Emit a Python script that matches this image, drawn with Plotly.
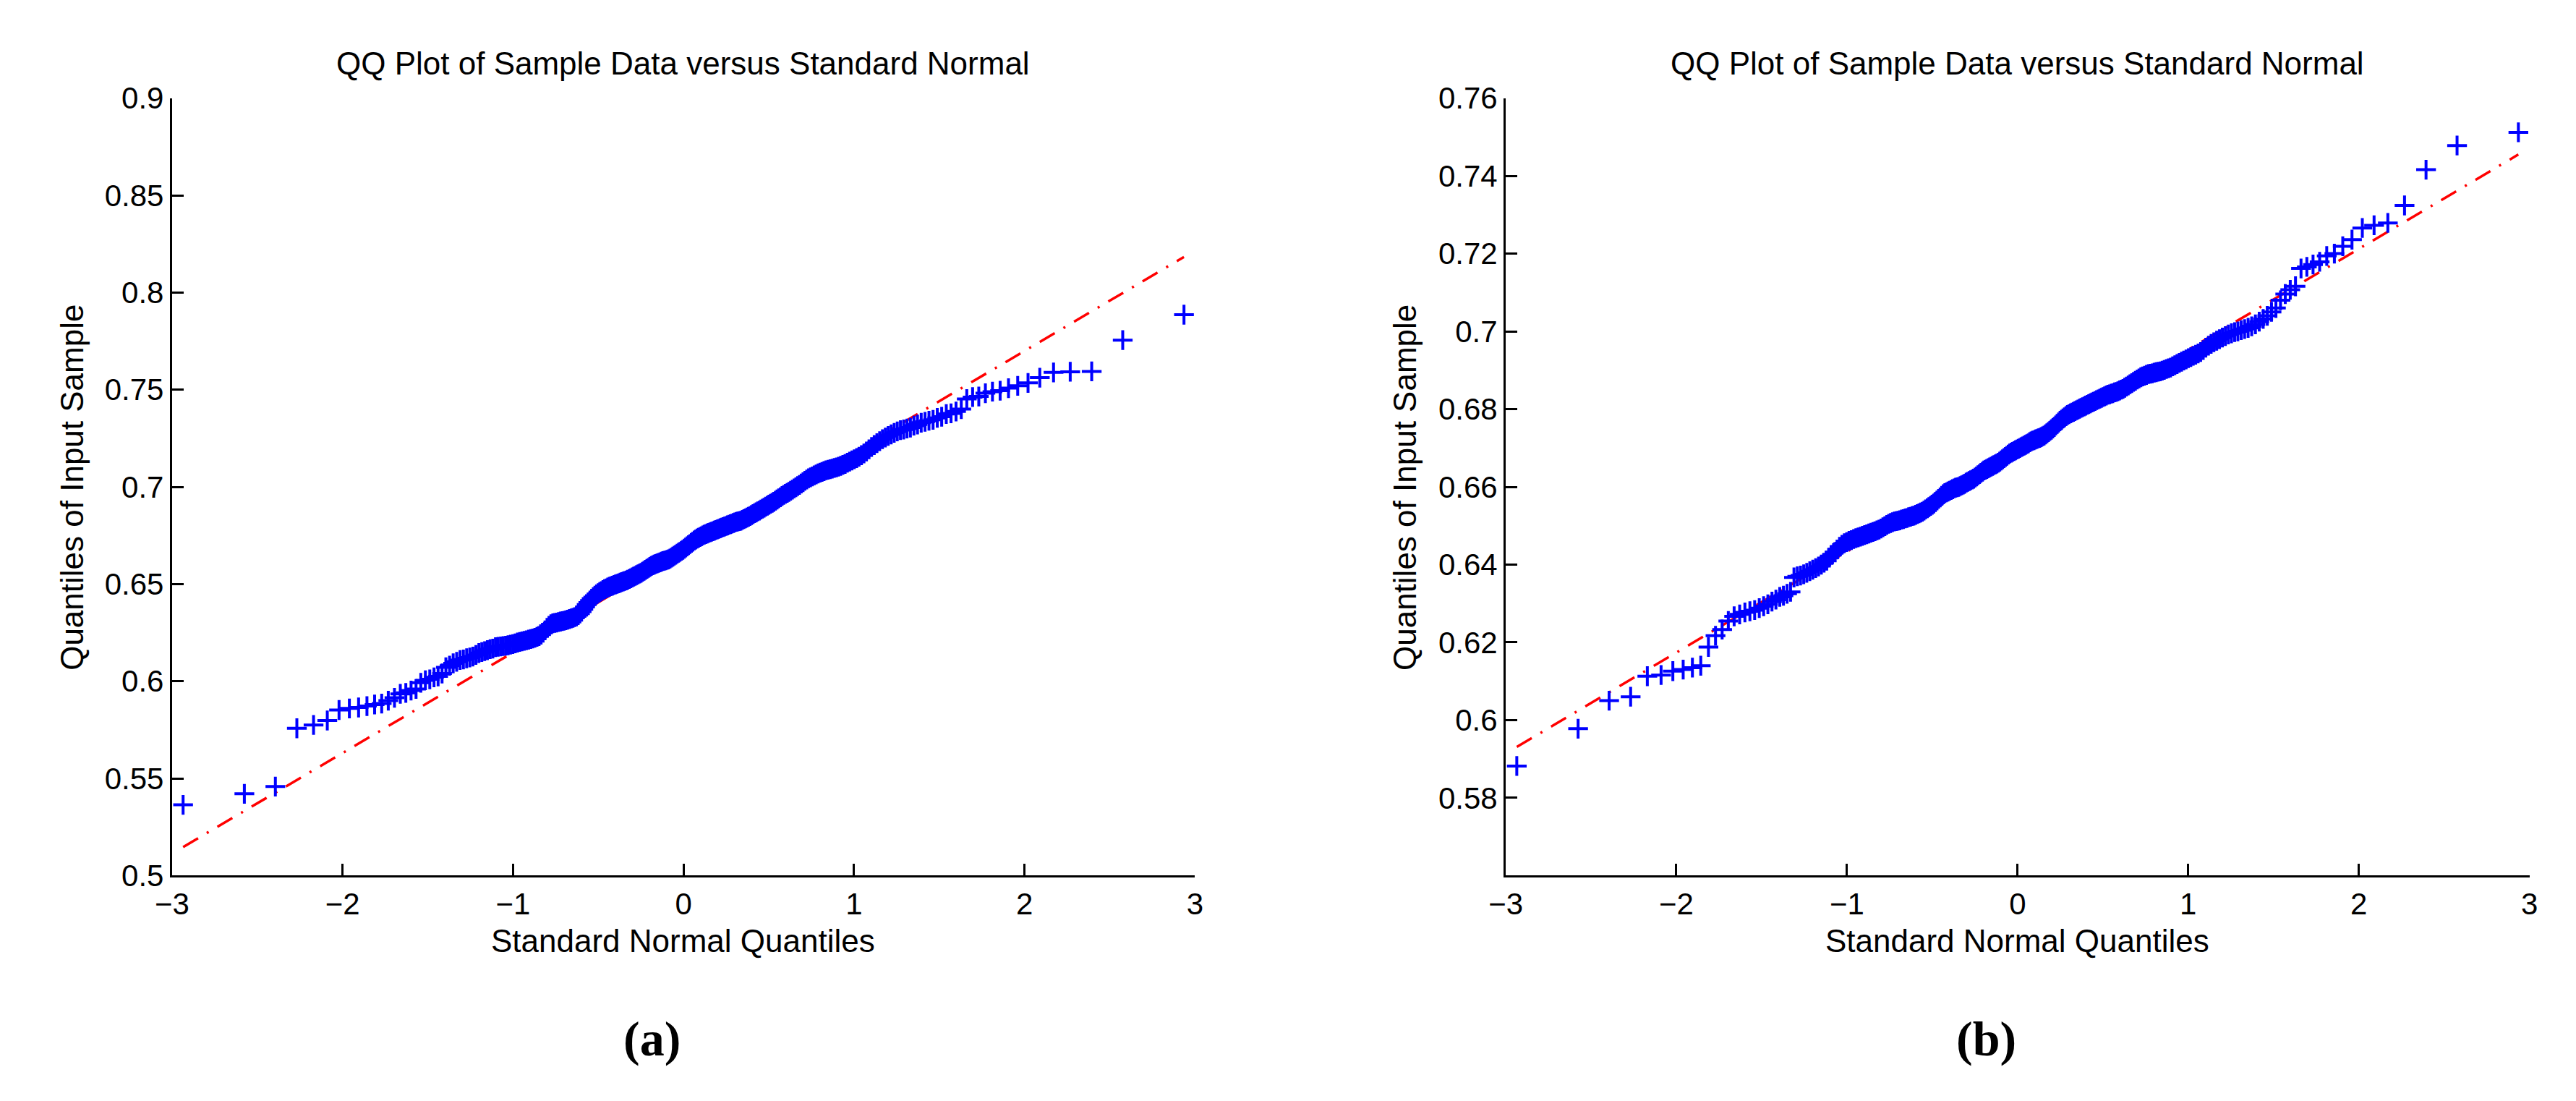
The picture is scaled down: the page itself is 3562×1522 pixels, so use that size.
from statistics import NormalDist
import plotly.graph_objects as go

# ---------------- data ----------------
N_POINTS = 300  # sample size of each QQ plot

# sorted sample values, panel (a)
sample_a = [
    0.5364, 0.5421, 0.5458, 0.5758, 0.5775, 0.5798, 0.5852, 0.5860, 0.5865, 0.5872,
    0.5880, 0.5885, 0.5900, 0.5915, 0.5935, 0.5940, 0.5952, 0.5960, 0.5992, 0.6005,
    0.6010, 0.6020, 0.6025, 0.6040, 0.6072, 0.6080, 0.6092, 0.6100, 0.6109, 0.6112,
    0.6118, 0.6122, 0.6127, 0.6135, 0.6145, 0.6150, 0.6155, 0.6160, 0.6165, 0.6168,
    0.6175, 0.6177, 0.6179, 0.6181, 0.6183, 0.6185, 0.6188, 0.6191, 0.6195, 0.6199,
    0.6202, 0.6205, 0.6208, 0.6211, 0.6214, 0.6217, 0.6220, 0.6224, 0.6228, 0.6232,
    0.6240, 0.6250, 0.6262, 0.6275, 0.6285, 0.6293, 0.6298, 0.6300, 0.6302, 0.6305,
    0.6307, 0.6309, 0.6311, 0.6314, 0.6317, 0.6320, 0.6323, 0.6326, 0.6330, 0.6334,
    0.6340, 0.6348, 0.6358, 0.6370, 0.6382, 0.6394, 0.6405, 0.6415, 0.6425, 0.6433,
    0.6440, 0.6447, 0.6453, 0.6459, 0.6464, 0.6469, 0.6474, 0.6478, 0.6482, 0.6486,
    0.6489, 0.6492, 0.6495, 0.6498, 0.6501, 0.6504, 0.6507, 0.6510, 0.6513, 0.6516,
    0.6519, 0.6522, 0.6526, 0.6530, 0.6534, 0.6538, 0.6542, 0.6546, 0.6550, 0.6554,
    0.6558, 0.6563, 0.6568, 0.6573, 0.6578, 0.6583, 0.6588, 0.6593, 0.6597, 0.6600,
    0.6603, 0.6606, 0.6609, 0.6612, 0.6615, 0.6618, 0.6620, 0.6622, 0.6625, 0.6627,
    0.6631, 0.6636, 0.6641, 0.6646, 0.6651, 0.6656, 0.6661, 0.6666, 0.6671, 0.6676,
    0.6682, 0.6688, 0.6694, 0.6700, 0.6706, 0.6712, 0.6718, 0.6724, 0.6729, 0.6734,
    0.6738, 0.6742, 0.6746, 0.6750, 0.6754, 0.6757, 0.6760, 0.6763, 0.6766, 0.6769,
    0.6772, 0.6775, 0.6778, 0.6781, 0.6784, 0.6787, 0.6790, 0.6793, 0.6796, 0.6799,
    0.6802, 0.6805, 0.6808, 0.6811, 0.6814, 0.6817, 0.6820, 0.6822, 0.6824, 0.6826,
    0.6830, 0.6834, 0.6838, 0.6842, 0.6846, 0.6850, 0.6855, 0.6860, 0.6865, 0.6869,
    0.6874, 0.6878, 0.6883, 0.6888, 0.6893, 0.6898, 0.6903, 0.6908, 0.6913, 0.6918,
    0.6923, 0.6929, 0.6935, 0.6941, 0.6947, 0.6953, 0.6959, 0.6964, 0.6969, 0.6974,
    0.6980, 0.6986, 0.6992, 0.6998, 0.7004, 0.7010, 0.7017, 0.7024, 0.7031, 0.7038,
    0.7044, 0.7049, 0.7054, 0.7059, 0.7064, 0.7069, 0.7073, 0.7077, 0.7081, 0.7085,
    0.7088, 0.7091, 0.7094, 0.7097, 0.7100, 0.7104, 0.7108, 0.7113, 0.7118, 0.7124,
    0.7130, 0.7136, 0.7142, 0.7148, 0.7155, 0.7163, 0.7172, 0.7182, 0.7193, 0.7205,
    0.7215, 0.7225, 0.7235, 0.7245, 0.7254, 0.7262, 0.7270, 0.7278, 0.7285, 0.7292,
    0.7295, 0.7300, 0.7305, 0.7315, 0.7321, 0.7330, 0.7335, 0.7340, 0.7345, 0.7355,
    0.7361, 0.7375, 0.7378, 0.7388, 0.7400, 0.7452, 0.7462, 0.7465, 0.7482, 0.7490,
    0.7495, 0.7508, 0.7520, 0.7535, 0.7562, 0.7589, 0.7592, 0.7594, 0.7755, 0.7886,
]

# sorted sample values, panel (b)
sample_b = [
    0.5882, 0.5978, 0.6050, 0.6060, 0.6113, 0.6116, 0.6126, 0.6130, 0.6135, 0.6140,
    0.6188, 0.6217, 0.6233, 0.6255, 0.6267, 0.6272, 0.6277, 0.6280, 0.6283, 0.6288,
    0.6293, 0.6298, 0.6305, 0.6310, 0.6317, 0.6320, 0.6325, 0.6330, 0.6367, 0.6370,
    0.6372, 0.6375, 0.6379, 0.6383, 0.6387, 0.6391, 0.6395, 0.6400, 0.6405, 0.6410,
    0.6418, 0.6425, 0.6432, 0.6439, 0.6446, 0.6451, 0.6455, 0.6458, 0.6461, 0.6463,
    0.6466, 0.6468, 0.6470, 0.6472, 0.6474, 0.6476, 0.6478, 0.6480, 0.6482, 0.6484,
    0.6486, 0.6488, 0.6490, 0.6493, 0.6496, 0.6499, 0.6502, 0.6505, 0.6507, 0.6509,
    0.6511, 0.6512, 0.6513, 0.6514, 0.6516, 0.6517, 0.6519, 0.6520, 0.6522, 0.6523,
    0.6525, 0.6526, 0.6528, 0.6530, 0.6532, 0.6534, 0.6536, 0.6539, 0.6542, 0.6545,
    0.6548, 0.6551, 0.6554, 0.6557, 0.6561, 0.6565, 0.6569, 0.6573, 0.6577, 0.6581,
    0.6584, 0.6586, 0.6588, 0.6590, 0.6592, 0.6594, 0.6596, 0.6598, 0.6599, 0.6600,
    0.6602, 0.6604, 0.6606, 0.6608, 0.6611, 0.6613, 0.6615, 0.6617, 0.6619, 0.6621,
    0.6624, 0.6627, 0.6630, 0.6633, 0.6636, 0.6639, 0.6642, 0.6644, 0.6646, 0.6648,
    0.6650, 0.6652, 0.6654, 0.6656, 0.6658, 0.6660, 0.6662, 0.6665, 0.6668, 0.6671,
    0.6674, 0.6677, 0.6680, 0.6683, 0.6686, 0.6688, 0.6690, 0.6692, 0.6694, 0.6696,
    0.6698, 0.6700, 0.6702, 0.6704, 0.6706, 0.6708, 0.6710, 0.6712, 0.6715, 0.6717,
    0.6719, 0.6720, 0.6722, 0.6723, 0.6725, 0.6726, 0.6728, 0.6730, 0.6732, 0.6735,
    0.6738, 0.6741, 0.6744, 0.6747, 0.6750, 0.6754, 0.6758, 0.6762, 0.6766, 0.6770,
    0.6773, 0.6776, 0.6779, 0.6782, 0.6785, 0.6787, 0.6789, 0.6791, 0.6793, 0.6795,
    0.6797, 0.6799, 0.6801, 0.6803, 0.6805, 0.6807, 0.6809, 0.6811, 0.6813, 0.6815,
    0.6817, 0.6819, 0.6821, 0.6823, 0.6825, 0.6827, 0.6829, 0.6831, 0.6833, 0.6835,
    0.6837, 0.6838, 0.6840, 0.6841, 0.6843, 0.6844, 0.6846, 0.6848, 0.6850, 0.6852,
    0.6855, 0.6858, 0.6861, 0.6864, 0.6867, 0.6870, 0.6873, 0.6876, 0.6879, 0.6882,
    0.6884, 0.6886, 0.6888, 0.6890, 0.6891, 0.6892, 0.6894, 0.6895, 0.6896, 0.6897,
    0.6899, 0.6901, 0.6903, 0.6905, 0.6907, 0.6910, 0.6913, 0.6916, 0.6919, 0.6922,
    0.6925, 0.6928, 0.6931, 0.6934, 0.6937, 0.6940, 0.6943, 0.6947, 0.6952, 0.6958,
    0.6963, 0.6968, 0.6972, 0.6976, 0.6980, 0.6984, 0.6988, 0.6992, 0.6995, 0.6998,
    0.7000, 0.7003, 0.7006, 0.7009, 0.7013, 0.7018, 0.7025, 0.7032, 0.7040, 0.7050,
    0.7060, 0.7080, 0.7096, 0.7107, 0.7116, 0.7162, 0.7166, 0.7172, 0.7179, 0.7194,
    0.7200, 0.7219, 0.7236, 0.7266, 0.7273, 0.7279, 0.7324, 0.7416, 0.7478, 0.7512,
]

# reference (quartile) lines: end points
refline_x = [-2.935, 2.935]
refline_a_y = [0.5147, 0.8183]
refline_b_y = [0.5931, 0.7455]
quartile_z = [-0.6745, 0.6745]

# axis ticks
x_ticks = [-3, -2, -1, 0, 1, 2, 3]
y_ticks_a = [0.5, 0.55, 0.6, 0.65, 0.7, 0.75, 0.8, 0.85, 0.9]
y_ticks_b = [0.58, 0.6, 0.62, 0.64, 0.66, 0.68, 0.7, 0.72, 0.74, 0.76]
y_ticktext_b = ["0.58", "0.6", "0.62", "0.64", "0.66", "0.68", "0.7", "0.72", "0.74", "0.76"]
y_range_a = [0.5, 0.9]
y_range_b = [0.56, 0.76]

TITLE = "QQ Plot of Sample Data versus Standard Normal"
XLAB = "Standard Normal Quantiles"
YLAB = "Quantiles of Input Sample"
PANEL_LABELS = ["(a)", "(b)"]

# theoretical standard-normal quantiles (MATLAB qqplot plotting positions)
nd = NormalDist()
theo = [nd.inv_cdf((i - 0.5) / N_POINTS) for i in range(1, N_POINTS + 1)]


def line_at(xs, y_end):
    slope = (y_end[1] - y_end[0]) / (refline_x[1] - refline_x[0])
    return [y_end[0] + slope * (x - refline_x[0]) for x in xs]


W, H = 3562, 1522
SANS = "Liberation Sans, Arial, sans-serif"
BLUE = "#0000FF"
RED = "#FF0000"

fig = go.Figure()

panels = [
    ("x", "y", sample_a, refline_a_y),
    ("x2", "y2", sample_b, refline_b_y),
]
for xa, ya, sample, ly in panels:
    fig.add_trace(go.Scatter(
        x=refline_x, y=ly, mode="lines", xaxis=xa, yaxis=ya,
        line=dict(color=RED, width=3.5, dash="24px,14px,3px,14px"),
        hoverinfo="skip", showlegend=False))
    fig.add_trace(go.Scatter(
        x=quartile_z, y=line_at(quartile_z, ly), mode="lines", xaxis=xa, yaxis=ya,
        line=dict(color=RED, width=3.5), hoverinfo="skip", showlegend=False))
    fig.add_trace(go.Scatter(
        x=theo, y=sample, mode="markers", xaxis=xa, yaxis=ya,
        marker=dict(symbol="cross-thin", size=19.5,
                    line=dict(color=BLUE, width=4), color=BLUE),
        showlegend=False, cliponaxis=False))

axis_common = dict(
    showline=True, linecolor="black", linewidth=3,
    ticks="inside", ticklen=16, tickwidth=3, tickcolor="black",
    showgrid=False, zeroline=False, mirror=False,
    tickfont=dict(family=SANS, size=42, color="black"),
)

dom_a = [208 / W, 1637 / W]
dom_b = [2071 / W, 3501 / W]
dom_y = [(H - 1217) / H, (H - 108) / H]

fig.update_layout(
    width=W, height=H,
    margin=dict(l=0, r=0, t=0, b=0),
    paper_bgcolor="white", plot_bgcolor="white",
    xaxis=dict(domain=dom_a, range=[-3, 3], tickvals=x_ticks, anchor="y", **axis_common),
    yaxis=dict(domain=dom_y, range=y_range_a, tickvals=y_ticks_a, anchor="x", **axis_common),
    xaxis2=dict(domain=dom_b, range=[-3, 3], tickvals=x_ticks, anchor="y2", **axis_common),
    yaxis2=dict(domain=dom_y, range=y_range_b, tickvals=y_ticks_b, ticktext=y_ticktext_b,
                anchor="x2", **axis_common),
)

ann = []
centers = [(922 / W, 68 / W, 878 / W), (2786 / W, 1930 / W, 2742 / W)]
for k, (cx, ylx, lx) in enumerate(centers):
    ann.append(dict(text=TITLE, x=cx, y=1 - 58 / H, xref="paper", yref="paper",
                    xanchor="center", yanchor="middle", showarrow=False,
                    font=dict(family=SANS, size=44, color="black")))
    ann.append(dict(text=XLAB, x=cx, y=1 - 1310 / H, xref="paper", yref="paper",
                    xanchor="center", yanchor="middle", showarrow=False,
                    font=dict(family=SANS, size=44, color="black")))
    ann.append(dict(text=YLAB, x=ylx, y=1 - 663 / H, xref="paper", yref="paper",
                    xanchor="center", yanchor="middle", showarrow=False, textangle=-90,
                    font=dict(family=SANS, size=44, color="black")))
    ann.append(dict(text="<b>" + PANEL_LABELS[k] + "</b>", x=lx, y=1 - 1450 / H,
                    xref="paper", yref="paper", xanchor="center", yanchor="middle",
                    showarrow=False,
                    font=dict(family="Liberation Serif, Times New Roman, serif", size=68,
                              color="black")))
fig.update_layout(annotations=ann)

fig.write_html("out.html")
